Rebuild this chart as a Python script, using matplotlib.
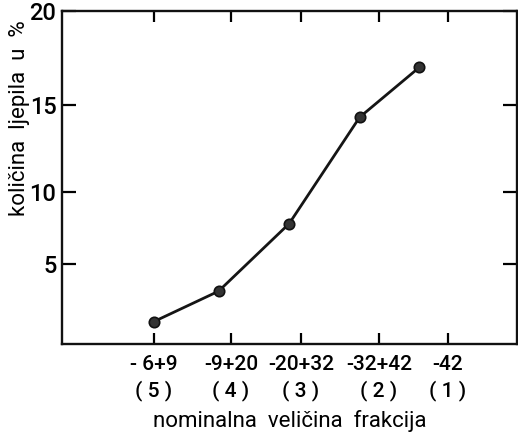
import matplotlib
matplotlib.use("Agg")
import matplotlib.pyplot as plt
import numpy as np

# -----------------------------
# Data
# -----------------------------
fraction_labels = ["- 6+9\n( 5 )", "-9+20\n( 4 )", "-20+32\n( 3 )", "-32+42\n( 2 )", "-42\n( 1 )"]
fraction_ticks = [1.0, 2.05, 3.0, 4.06, 5.0]

point_x = [1.0, 1.88, 2.84, 3.80, 4.61]
glue_pct = [1.4, 3.3, 7.8, 14.3, 17.0]

y_ticks = [5, 10, 15, 20]

# the printed y axis is not evenly spaced, follow its tick spacing
y_anchor_val = [0, 5, 10, 15, 20]
y_anchor_pos = [0, 80, 152, 239, 333]


def y_forward(v):
    return np.interp(v, y_anchor_val, y_anchor_pos)


def y_inverse(p):
    return np.interp(p, y_anchor_pos, y_anchor_val)


# -----------------------------
# Plot
# -----------------------------
plt.rcParams["font.family"] = ["Roboto", "DejaVu Sans"]
plt.rcParams["font.weight"] = "medium"

fig = plt.figure(figsize=(5.18, 4.37), dpi=100)
ax = fig.add_axes([62 / 518, 93 / 437, 455 / 518, 333 / 437])

ax.plot(
    point_x,
    glue_pct,
    color="#151515",
    linewidth=2.0,
    marker="o",
    markersize=7.5,
    markerfacecolor="#333333",
    markeredgecolor="#111111",
    markeredgewidth=1.2,
)

ax.set_yscale("function", functions=(y_forward, y_inverse))
ax.set_ylim(0, 20)
ax.set_xlim(-0.25, 5.94)

ax.set_yticks(y_ticks)
ax.set_yticklabels([str(t) for t in y_ticks], fontsize=17)
ax.yaxis.set_minor_locator(matplotlib.ticker.NullLocator())

ax.set_xticks(fraction_ticks)
ax.set_xticklabels(fraction_labels, fontsize=15, linespacing=1.35)

ax.tick_params(axis="y", direction="in", length=10, width=1.6, right=True, pad=4)
ax.tick_params(axis="x", direction="in", length=8, width=1.6, top=True, pad=8)

for side in ax.spines.values():
    side.set_linewidth(1.7)
    side.set_color("#111111")

ax.set_xlabel("nominalna  veličina  frakcija", fontsize=16, labelpad=7)
ax.set_ylabel("količina  ljepila  u  %", fontsize=16)
ax.yaxis.set_label_coords(-0.07, 0.677)

fig.savefig("out.png", dpi=100)
